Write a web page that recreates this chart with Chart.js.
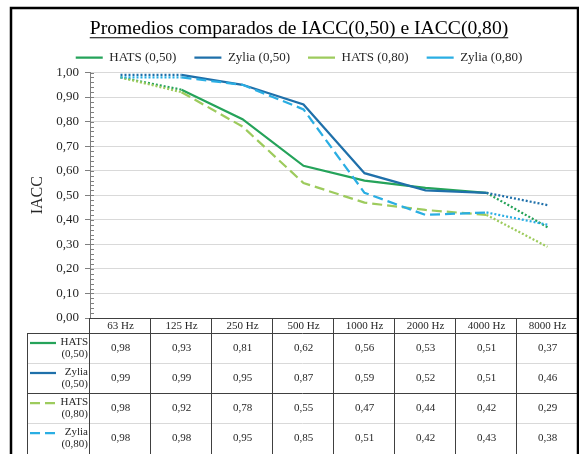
<!DOCTYPE html>
<html>
<head>
<meta charset="utf-8">
<script src="https://cdn.jsdelivr.net/npm/chart.js@4.4.1/dist/chart.umd.min.js"></script>
<style>
  html, body { margin: 0; padding: 0; background: #ffffff; }
  #wrap { width: 579px; height: 454px; position: relative; }
</style>
</head>
<body>
<div id="wrap"><canvas id="iaccChart"></canvas></div>
<script>
const categories = ['63 Hz', '125 Hz', '250 Hz', '500 Hz', '1000 Hz', '2000 Hz', '4000 Hz', '8000 Hz'];
const hats050 = [0.98, 0.93, 0.81, 0.62, 0.56, 0.53, 0.51, 0.37];
const zylia050 = [0.99, 0.99, 0.95, 0.87, 0.59, 0.52, 0.51, 0.46];
const hats080 = [0.98, 0.92, 0.78, 0.55, 0.47, 0.44, 0.42, 0.29];
const zylia080 = [0.98, 0.98, 0.95, 0.85, 0.51, 0.42, 0.43, 0.38];
const seriesNames = ['HATS (0,50)', 'Zylia (0,50)', 'HATS (0,80)', 'Zylia (0,80)'];
const seriesColors = ['#25a35a', '#1f70aa', '#9dcb5d', '#2aaee3'];
const seriesDash = [[], [], [10, 5], [10, 5]];
const allSeries = [hats050, zylia050, hats080, zylia080];

const SERIF = "'Liberation Serif', 'Times New Roman', serif";
const lastIndex = categories.length - 1;

const fmt = v => v.toFixed(2).replace('.', ',');
const isMajor = v => Math.round(v * 100) % 10 === 0;

// Excel draws first and last segments as dotted
function segmentDash(ctx) {
  if (ctx.p0DataIndex === 0 || ctx.p1DataIndex === lastIndex) return [2, 2];
  return undefined;
}

const datasets = allSeries.map((data, i) => ({
  label: seriesNames[i],
  data,
  borderColor: seriesColors[i],
  backgroundColor: seriesColors[i],
  borderWidth: 2.25,
  borderDash: seriesDash[i],
  pointRadius: 0,
  tension: 0,
  fill: false,
  order: allSeries.length - i,
  segment: { borderDash: segmentDash }
}));

const underlineTitle = {
  id: 'underlineTitle',
  afterDraw(chart) {
    const tb = chart.titleBlock;
    const opts = chart.options.plugins.title;
    const { ctx } = chart;
    ctx.save();
    ctx.font = `${opts.font.size}px ${SERIF}`;
    const w = ctx.measureText(opts.text).width;
    const cx = (tb.left + tb.right) / 2;
    const y = tb.top + opts.padding.top + opts.font.size * 1.2 / 2 + 8;
    ctx.strokeStyle = '#000';
    ctx.lineWidth = 1;
    ctx.beginPath();
    ctx.moveTo(cx - w / 2, y + 0.5);
    ctx.lineTo(cx + w / 2, y + 0.5);
    ctx.stroke();
    ctx.restore();
  }
};

const dataTable = {
  id: 'dataTable',
  afterDraw(chart) {
    const { ctx, chartArea } = chart;
    const x = chart.scales.x;
    const y = chart.scales.y;
    const colW = (x.right - x.left) / categories.length;
    const top = chartArea.bottom;
    const headBottom = top + 15;
    const rowH = 30;
    const tableLeft = 27;
    const bottom = chart.height;

    ctx.save();

    // inner minor ticks on the value axis
    ctx.strokeStyle = '#7f7f7f';
    ctx.lineWidth = 1;
    ctx.beginPath();
    y.ticks.forEach(t => {
      const py = Math.round(y.getPixelForValue(t.value)) + 0.5;
      ctx.moveTo(chartArea.left, py);
      ctx.lineTo(chartArea.left + 4, py);
    });
    ctx.stroke();

    // light row separators
    ctx.strokeStyle = '#d9d9d9';
    ctx.beginPath();
    [1, 3].forEach(r => {
      const py = headBottom + r * rowH + 0.5;
      ctx.moveTo(tableLeft, py);
      ctx.lineTo(x.right, py);
    });
    ctx.stroke();

    // dark grid of the table
    ctx.strokeStyle = '#404040';
    ctx.beginPath();
    ctx.moveTo(x.left, top + 0.5);
    ctx.lineTo(x.right, top + 0.5);
    [0, 2].forEach(r => {
      const py = headBottom + r * rowH + 0.5;
      ctx.moveTo(tableLeft, py);
      ctx.lineTo(x.right, py);
    });
    ctx.moveTo(tableLeft + 0.5, headBottom);
    ctx.lineTo(tableLeft + 0.5, bottom);
    for (let i = 0; i <= categories.length; i++) {
      const px = Math.round(x.left + i * colW) - 0.5;
      ctx.moveTo(px, top);
      ctx.lineTo(px, bottom);
    }
    ctx.stroke();

    // rows: legend key + values
    ctx.fillStyle = '#262626';
    ctx.font = `11px ${SERIF}`;
    allSeries.forEach((data, i) => {
      const rowTop = headBottom + i * rowH;
      const [name, param] = seriesNames[i].split(' ');

      ctx.save();
      ctx.strokeStyle = seriesColors[i];
      ctx.lineWidth = 2.25;
      ctx.setLineDash(seriesDash[i]);
      ctx.beginPath();
      ctx.moveTo(30, rowTop + 10);
      ctx.lineTo(56, rowTop + 10);
      ctx.stroke();
      ctx.restore();

      ctx.textAlign = 'right';
      ctx.textBaseline = 'middle';
      ctx.fillText(name, 88, rowTop + 9);
      ctx.fillText(param, 88, rowTop + 21);

      ctx.textAlign = 'center';
      data.forEach((v, j) => {
        ctx.fillText(fmt(v), x.getPixelForValue(j), rowTop + 15);
      });
    });

    // outer frame
    ctx.strokeStyle = '#000';
    ctx.lineWidth = 2.5;
    ctx.strokeRect(11, 8, 567, 452);
    ctx.restore();
  }
};

new Chart(document.getElementById('iaccChart').getContext('2d'), {
  type: 'line',
  data: { labels: categories, datasets },
  options: {
    responsive: true,
    maintainAspectRatio: false,
    animation: false,
    layout: { padding: { top: 10, left: 20, right: 1, bottom: 0 } },
    scales: {
      x: {
        type: 'category',
        offset: true,
        grid: { display: false, drawTicks: false },
        border: { display: false },
        ticks: { color: '#262626', font: { family: SERIF, size: 11 }, padding: 2, maxRotation: 0 },
        afterFit: scale => { scale.height = 136; }
      },
      y: {
        min: 0,
        max: 1,
        title: { display: true, text: 'IACC', color: '#262626', font: { family: SERIF, size: 16 }, padding: { top: 8, bottom: 0 } },
        ticks: {
          stepSize: 0.02,
          autoSkip: false,
          padding: 6,
          color: '#262626',
          font: { family: SERIF, size: 13 },
          callback: v => (isMajor(v) ? fmt(Math.round(v * 100) / 100) : '')
        },
        grid: {
          color: c => (c.tick && isMajor(c.tick.value) ? '#d9d9d9' : 'transparent'),
          tickColor: c => (c.tick && isMajor(c.tick.value) ? '#7f7f7f' : 'transparent'),
          tickLength: 5
        },
        border: { color: '#7f7f7f' },
        afterFit: scale => { scale.width = 70; }
      }
    },
    plugins: {
      title: {
        display: true,
        text: 'Promedios comparados de IACC(0,50) e IACC(0,80)',
        color: '#000',
        font: { family: SERIF, size: 19.6, weight: 'normal' },
        padding: { top: 7.5, bottom: -8 }
      },
      legend: {
        maxHeight: 39.5,
        labels: {
          color: '#262626',
          font: { family: SERIF, size: 13 },
          usePointStyle: true,
          pointStyle: 'line',
          pointStyleWidth: 27,
          padding: 18,
          sort: (a, b) => a.datasetIndex - b.datasetIndex
        }
      },
      tooltip: { enabled: false }
    }
  },
  plugins: [underlineTitle, dataTable]
});
</script>
</body>
</html>
